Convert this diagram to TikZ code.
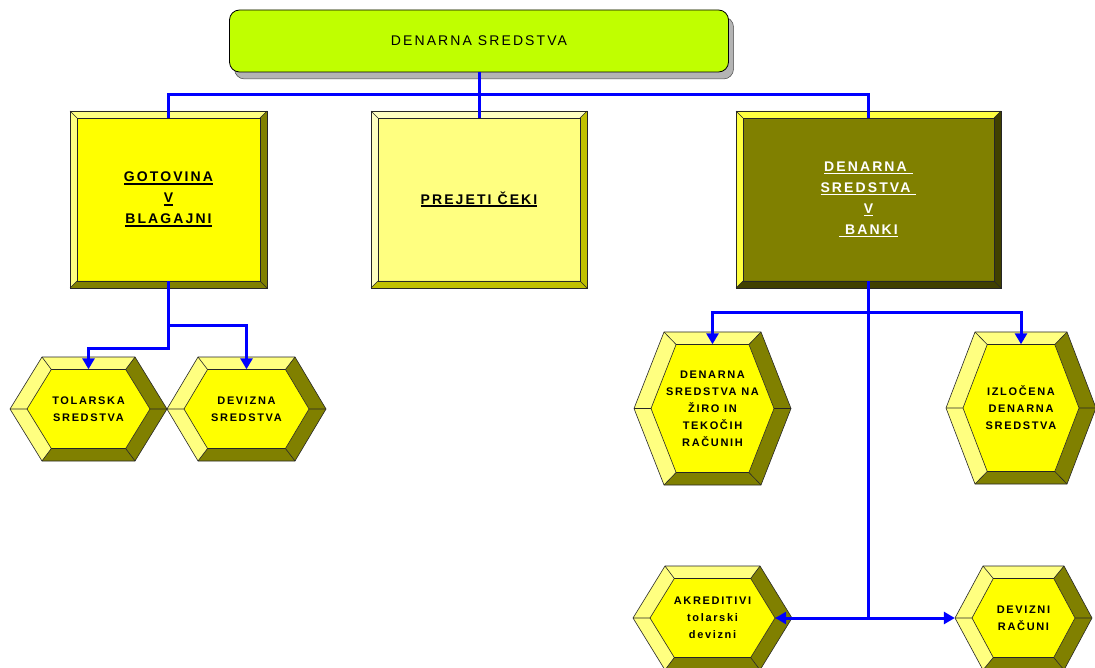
\documentclass[tikz,border=0pt]{standalone}
\usepackage{fontspec}
\setmainfont{Liberation Sans}
\newfontfamily\trackedfont{Liberation Sans}[LetterSpace=15]
\usetikzlibrary{arrows.meta,shadows}

\definecolor{linkblue}{HTML}{0000FF}
\definecolor{topfill}{HTML}{C0FF00}
\definecolor{shadowgray}{HTML}{B4B4B4}
% palettes: face / light bevel / dark bevel
\definecolor{gface}{HTML}{FFFF00}\definecolor{glight}{HTML}{FFFF80}\definecolor{gdark}{HTML}{808000}
\definecolor{pface}{HTML}{FFFF80}\definecolor{plight}{HTML}{FFFFC0}\definecolor{pdark}{HTML}{C0C000}
\definecolor{bface}{HTML}{808000}\definecolor{blight}{HTML}{FFFF40}\definecolor{bdark}{HTML}{404000}
\definecolor{hface}{HTML}{FFFF00}\definecolor{hlight}{HTML}{FFFF80}\definecolor{hdark}{HTML}{808000}

% thick underline under a piece of text
\newcommand\ulbox[1]{\setbox0\hbox{#1}\rlap{\rule[-3pt]{\wd0}{1.8pt}}\box0}

\newcommand\bev{7}
% bevelled rectangle: name, x1, y1, x2, y2, palette, text style, text
\newcommand\bevelbox[8]{%
  \fill[#6face] (#2,#3) rectangle (#4,#5);
  \fill[#6light] (#2,#3) -- (#4,#3) -- ({#4-\bev},{#3+\bev}) -- ({#2+\bev},{#3+\bev}) -- cycle;
  \fill[#6light] (#2,#3) -- ({#2+\bev},{#3+\bev}) -- ({#2+\bev},{#5-\bev}) -- (#2,#5) -- cycle;
  \fill[#6dark] (#4,#3) -- (#4,#5) -- ({#4-\bev},{#5-\bev}) -- ({#4-\bev},{#3+\bev}) -- cycle;
  \fill[#6dark] (#2,#5) -- (#4,#5) -- ({#4-\bev},{#5-\bev}) -- ({#2+\bev},{#5-\bev}) -- cycle;
  \draw[edge] (#2,#3) rectangle (#4,#5);
  \draw[edge] ({#2+\bev},{#3+\bev}) rectangle ({#4-\bev},{#5-\bev});
  \draw[edge] (#2,#3) -- ({#2+\bev},{#3+\bev}) (#4,#3) -- ({#4-\bev},{#3+\bev})
              (#2,#5) -- ({#2+\bev},{#5-\bev}) (#4,#5) -- ({#4-\bev},{#5-\bev});
  \node[#7, minimum width={#4-#2}, minimum height={#5-#3}] (#1) at ({(#2+#4)/2},{(#3+#5)/2}) {#8};
}

% bevelled hexagon: name, cx, cy, half width, half height, corner inset, text
\newcommand\hexbox[7]{%
  \pgfmathsetmacro\ihw{#4-17}%
  \pgfmathsetmacro\ihh{#5-12.5}%
  \pgfmathsetmacro\ia{#6*\ihh/#5}%
  \coordinate (O1) at ({#2-#4},#3);
  \coordinate (O2) at ({#2-#4+#6},{#3-#5});
  \coordinate (O3) at ({#2+#4-#6},{#3-#5});
  \coordinate (O4) at ({#2+#4},#3);
  \coordinate (O5) at ({#2+#4-#6},{#3+#5});
  \coordinate (O6) at ({#2-#4+#6},{#3+#5});
  \coordinate (I1) at ({#2-\ihw},#3);
  \coordinate (I2) at ({#2-\ihw+\ia},{#3-\ihh});
  \coordinate (I3) at ({#2+\ihw-\ia},{#3-\ihh});
  \coordinate (I4) at ({#2+\ihw},#3);
  \coordinate (I5) at ({#2+\ihw-\ia},{#3+\ihh});
  \coordinate (I6) at ({#2-\ihw+\ia},{#3+\ihh});
  \fill[hlight] (O2) -- (O3) -- (I3) -- (I2) -- cycle;
  \fill[hlight] (O1) -- (O2) -- (I2) -- (I1) -- cycle;
  \fill[hlight] (O6) -- (O1) -- (I1) -- (I6) -- cycle;
  \fill[hdark] (O3) -- (O4) -- (I4) -- (I3) -- cycle;
  \fill[hdark] (O4) -- (O5) -- (I5) -- (I4) -- cycle;
  \fill[hdark] (O5) -- (O6) -- (I6) -- (I5) -- cycle;
  \fill[hface] (I1) -- (I2) -- (I3) -- (I4) -- (I5) -- (I6) -- cycle;
  \draw[edge] (O1) -- (O2) -- (O3) -- (O4) -- (O5) -- (O6) -- cycle;
  \draw[edge] (I1) -- (I2) -- (I3) -- (I4) -- (I5) -- (I6) -- cycle;
  \draw[edge] (O1) -- (I1) (O2) -- (I2) (O3) -- (I3) (O4) -- (I4) (O5) -- (I5) (O6) -- (I6);
  \node[hextext, minimum width={2*\ihw}, minimum height={2*\ihh}] (#1) at (#2,#3) {#7};
}

\begin{document}
\begin{tikzpicture}[x=1pt, y=-1pt,
  edge/.style={draw=black!85, line width=0.6pt},
  conn/.style={draw=linkblue, line width=3pt},
  tip/.style={-{Triangle[width=12pt,length=11pt]}},
  topbox/.style={rounded corners=10pt, fill=topfill, draw=black, line width=0.8pt,
    minimum width=499pt, minimum height=62pt, inner sep=0pt,
    font=\trackedfont\fontsize{14}{17}\selectfont,
    drop shadow={shadow xshift=5pt, shadow yshift=-7pt, fill=shadowgray,
      draw=black!70, line width=0.5pt, opacity=1}},
  boxtext/.style={align=center, inner sep=0pt,
    font=\trackedfont\bfseries\fontsize{14}{21}\selectfont},
  hextext/.style={align=center, inner sep=0pt,
    font=\trackedfont\bfseries\fontsize{11}{17}\selectfont}]
\useasboundingbox (0,0) rectangle (1095,668);

% title
\node[topbox] (top) at (479,41) {DENARNA SREDSTVA};

% first level
\bevelbox{got}{70}{111}{267}{288}{g}{boxtext}{\ulbox{GOTOVINA}\\\ulbox{V}\\\ulbox{BLAGAJNI}}
\bevelbox{cek}{371}{111}{587}{288}{p}{boxtext}{\ulbox{PREJETI ČEKI}}
\bevelbox{ban}{736}{111}{1001}{288}{b}{boxtext,text=white}{\ulbox{DENARNA\ }\\\ulbox{SREDSTVA\ }\\\ulbox{V}\\\ulbox{\ BANKI}}

% second level
\hexbox{tol}{88.5}{409}{78.5}{52}{32}{TOLARSKA\\SREDSTVA}
\hexbox{dev}{246.5}{409}{79.5}{52}{31}{DEVIZNA\\SREDSTVA}
\hexbox{ziro}{712.5}{408.5}{78.5}{76.5}{30}{DENARNA\\SREDSTVA NA\\ŽIRO IN\\TEKOČIH\\RAČUNIH}
\hexbox{izl}{1021}{408}{75}{76}{29}{IZLOČENA\\DENARNA\\SREDSTVA}
\hexbox{akr}{712.5}{618}{79.5}{52}{32}{AKREDITIVI\\tolarski\\devizni}
\hexbox{dvr}{1023.5}{618}{68.5}{52}{28}{DEVIZNI\\RAČUNI}

% connectors
\coordinate (bus) at (479,95);
\coordinate (gj1) at (168.5,326);
\coordinate (gj2) at (168.5,348);
\coordinate (bj1) at (868.5,313);
\coordinate (bj2) at (868.5,618);

\draw[conn] (top.south) -- (bus);
\draw[conn] ([yshift=-7pt]got.north) |- (bus) -| ([yshift=-7pt]ban.north);
\draw[conn] (bus) -- ([yshift=-7pt]cek.north);

\draw[conn,tip] ([yshift=7pt]got.south) -- (gj2) -| (tol.north);
\draw[conn,tip] (gj1) -| (dev.north);

\draw[conn,tip] ([yshift=7pt]ban.south) -- (bj2) -- (akr.east);
\draw[conn,tip] (bj2) -- ([xshift=-17pt]dvr.west);
\draw[conn,tip] (bj1) -| (ziro.north);
\draw[conn,tip] (bj1) -| (izl.north);
\end{tikzpicture}
\end{document}
